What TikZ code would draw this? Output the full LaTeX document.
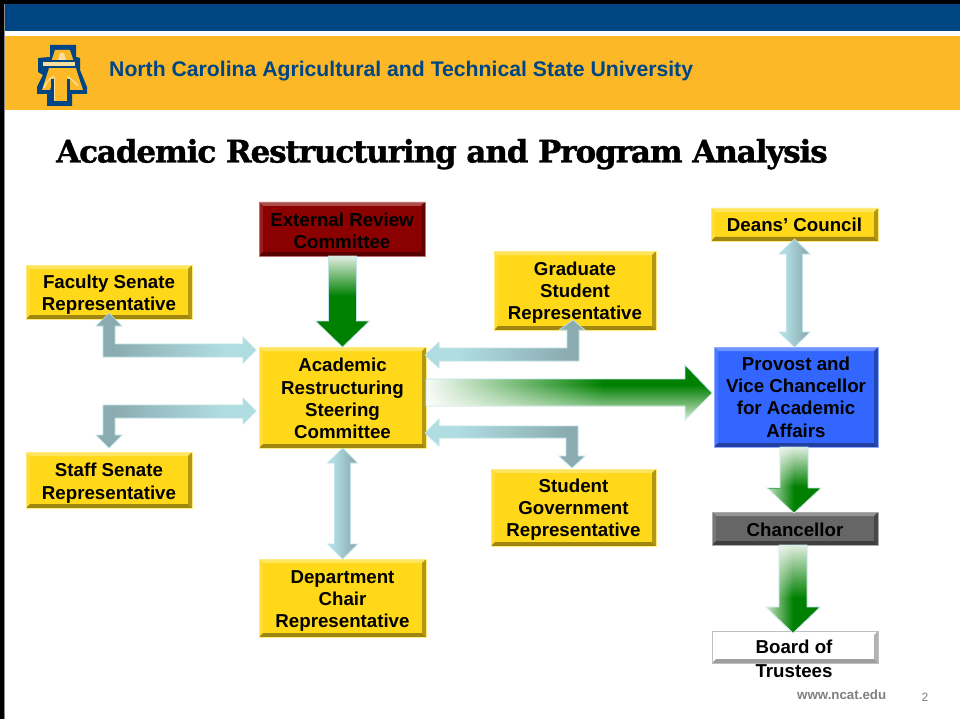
\documentclass[tikz,border=0pt]{standalone}
\usepackage{fontspec}
\setmainfont{Liberation Sans}
\newfontfamily\titlefont{DejaVu Serif}[LetterSpace=-3.6,BoldFeatures={FakeBold=1.2,LetterSpace=-3.6}]
\usetikzlibrary{calc,fadings}
\definecolor{navy}{HTML}{004684}
\definecolor{goldband}{HTML}{FDB827}
\definecolor{logopale}{HTML}{F8DFA0}
\definecolor{ag}{HTML}{008000}
\definecolor{lg}{HTML}{E2EEE2}
\definecolor{wg}{HTML}{F8FBF8}
\definecolor{tealL}{HTML}{B0DDE2}
\definecolor{tealD}{HTML}{8AABB0}
\definecolor{edgeT}{HTML}{BFE3E6}
\definecolor{boxgold}{HTML}{FFD819}
\definecolor{boxred}{HTML}{8B0000}
\definecolor{boxblue}{HTML}{3366FF}
\definecolor{boxgray}{HTML}{666666}
\definecolor{boxwhite}{HTML}{FFFFFF}
\pgfdeclareverticalshading{gdownA}{100bp}{color(0bp)=(ag); color(25bp)=(ag); color(53bp)=(ag); color(75bp)=(lg); color(100bp)=(lg)}
\pgfdeclareverticalshading{gdownB}{100bp}{color(0bp)=(ag); color(25bp)=(ag); color(45bp)=(ag); color(75bp)=(lg); color(100bp)=(lg)}
\pgfdeclarehorizontalshading{gright}{100bp}{color(0bp)=(wg); color(25bp)=(wg); color(56bp)=(ag); color(75bp)=(ag); color(100bp)=(ag)}
\pgfdeclarehorizontalshading{tealLR}{100bp}{color(0bp)=(tealL); color(25bp)=(tealL); color(35bp)=(tealL); color(70bp)=(tealD); color(75bp)=(tealD); color(100bp)=(tealD)}
\pgfdeclarehorizontalshading{tealRL}{100bp}{color(0bp)=(tealD); color(25bp)=(tealD); color(30bp)=(tealD); color(65bp)=(tealL); color(75bp)=(tealL); color(100bp)=(tealL)}
\tikzfading[name=lowfade, top color=transparent!100, bottom color=transparent!15]
\tikzfading[name=leftfade, left color=transparent!20, right color=transparent!100]
\newcommand{\dropby}[1]{\rule{0pt}{#1pt}}
\tikzset{
  x=1pt, y=-1pt,
  boxtext/.style={font=\fontsize{18.7}{22.3}\selectfont\bfseries, align=center, text=black, inner sep=0pt, outer sep=0pt},
  bevelbox/.style n args={3}{boxtext, rectangle, minimum width=#2, minimum height=#3, fill=#1,
    draw=#1!55!white, line width=0.7pt,
    path picture={
      \coordinate (nw) at (path picture bounding box.north west);
      \coordinate (ne) at (path picture bounding box.north east);
      \coordinate (sw) at (path picture bounding box.south west);
      \coordinate (se) at (path picture bounding box.south east);
      \fill[#1!70!white] (nw) -- (ne) -- ($(ne)+(-4,4)$) -- ($(nw)+(4,4)$) -- cycle;
      \fill[#1!88!white] (nw) -- (sw) -- ($(sw)+(4,-4)$) -- ($(nw)+(4,4)$) -- cycle;
      \fill[#1!70!black] (ne) -- (se) -- ($(se)+(-4,-4)$) -- ($(ne)+(-4,4)$) -- cycle;
      \fill[#1!62!black] (sw) -- (se) -- ($(se)+(-4,-4)$) -- ($(sw)+(4,-4)$) -- cycle;
    }},
  goldbox/.style 2 args={bevelbox={boxgold}{#1}{#2}},
  arrowedge/.style={draw=edgeT, line width=0.7pt},
  tealdouble/.style={arrowedge, shading=tealLR},
  tealfromright/.style={arrowedge, shading=tealLR},
  tealfromleft/.style={arrowedge, shading=tealRL},
  greendownA/.style={arrowedge, shading=gdownA},
  greendownB/.style={arrowedge, shading=gdownB},
  greenright/.style={arrowedge, shading=gright},
  footer/.style={text=black!50, inner sep=0pt},
}
% style, start, tip, half shaft, half head, head length
\newcommand{\DownArrow}[6]{%
  \path[#1] ($(#2 -| #3)+(-#4,0)$) -- ($(#2 -| #3)+(#4,0)$) -- ($(#3)+(#4,-#6)$) -- ($(#3)+(#5,-#6)$)
    -- (#3) -- ($(#3)+(-#5,-#6)$) -- ($(#3)+(-#4,-#6)$) -- cycle;}
% style, upper tip, lower tip, half shaft, half head, head length
\newcommand{\DoubleArrow}[6]{%
  \path[#1] (#2) -- ($(#2)+(#5,#6)$) -- ($(#2)+(#4,#6)$) -- ($(#3)+(#4,-#6)$) -- ($(#3)+(#5,-#6)$)
    -- (#3) -- ($(#3)+(-#5,-#6)$) -- ($(#3)+(-#4,-#6)$) -- ($(#2)+(-#4,#6)$) -- ($(#2)+(-#5,#6)$) -- cycle;}
\begin{document}
\begin{tikzpicture}
\useasboundingbox (0,0) rectangle (960,719);
\fill[white] (0,0) rectangle (960,719);
% header bands
\fill[navy] (0,4) rectangle (960,31);
\fill[goldband] (0,36) rectangle (960,110);
\fill[black] (0,0) rectangle (960,4);
\fill[black] (0,0) rectangle (4,719);
\fill[black!45] (4,4) rectangle (5,719);
% logo
\fill[navy] (50,45) -- (76,45) -- (76,57) -- (80,58) -- (80,70) -- (87,87) -- (87,94) -- (72,94)
  -- (72,106) -- (47,106) -- (47,94) -- (37,94) -- (37,87) -- (43,75) -- (38,72) -- (38,58) -- (50,57) -- cycle;
\fill[goldband] (55,50) -- (70,50) -- (83,90) -- (70,90) -- (66,78) -- (54,78) -- (50,90) -- (42,90) -- cycle;
\fill[navy] (41,60) rectangle (77,68.5);
\fill[logopale] (43,62) rectangle (75,66);
\fill[logopale] (60,53) -- (64,53) -- (66,60) -- (58,60) -- cycle;
\fill[goldband] (51,68.5) -- (73,68.5) -- (76,80) -- (48,80) -- cycle;
\draw[logopale, line width=1.4pt] (44,88) .. controls (50,73) and (64,69) .. (78,86);
\fill[navy] (50.5,79) rectangle (69.5,103);
\fill[goldband] (53.5,74) rectangle (66.5,101);
\fill[logopale] (53.5,77) rectangle (55,101);
% header text
\node[anchor=base west, inner sep=0pt, text=navy, font=\fontsize{21.2}{24}\selectfont\bfseries] (uni) at (109,77) {North Carolina Agricultural and Technical State University};
\node[anchor=base west, inner sep=0pt, text=black, font=\fontsize{31}{36}\selectfont\titlefont\bfseries] (title) at (56,162.5) {Academic Restructuring and Program Analysis};
% boxes
\node[bevelbox={boxred}{166}{54}] (ext) at (342,229) {\dropby{16.6}External Review\\Committee};
\node[goldbox={166}{54}] (fac) at (109,292) {\dropby{18.6}Faculty Senate\\Representative};
\node[goldbox={166}{56}] (staff) at (109,480) {\dropby{19.6}Staff Senate\\Representative};
\node[goldbox={167}{101}] (steer) at (342.5,397.5) {\dropby{15.6}Academic\\Restructuring\\Steering\\Committee};
\node[goldbox={162}{79}] (grad) at (575,290.5) {\dropby{17.6}Graduate\\Student\\Representative};
\node[goldbox={165}{77}] (stud) at (573.5,507.5) {\dropby{17.6}Student\\Government\\Representative};
\node[goldbox={167}{78}] (dept) at (342.5,598) {\dropby{18.6}Department\\Chair\\Representative};
\node[goldbox={167}{33}] (deans) at (794.5,224.5) {Deans’ Council};
\node[bevelbox={boxblue}{164}{100}] (prov) at (796,397) {Provost and\\Vice Chancellor\\for Academic\\Affairs};
\node[bevelbox={boxgray}{166}{33}] (chan) at (795,528.5) {\dropby{15.6}Chancellor};
\node[bevelbox={boxwhite}{166}{32}, draw=black!25] (board) at (795,647) {};
\node[boxtext, font=\fontsize{18.7}{23.5}\selectfont\bfseries] (boardtext) at (794,659) {Board of\\Trustees};
% straight green arrows
\DownArrow{greendownA}{ext.south}{steer.north}{14}{27}{26}
\coordinate (pc) at ($(chan.north)+(-1,1)$);
\DownArrow{greendownB}{prov.south}{pc}{14}{27}{25}
\fill[white, path fading=leftfade] (767,489) -- (780,489) -- (780,447.5) -- (794,447.5) -- (794,514) -- cycle;
\coordinate (bt) at ($(board.north)+(-2,2)$);
\DownArrow{greendownB}{chan.south}{bt}{14}{27}{26}
\fill[white, path fading=leftfade] (766,607) -- (779,607) -- (779,545.5) -- (793,545.5) -- (793,633) -- cycle;
% main green arrow
\coordinate (ms) at ($(steer.east)+(0,-4.5)$);
\coordinate (mt) at ($(prov.west)+(-2,-4)$);
\path[greenright] (ms |- 0,379) -- (685,379) -- (685,365) -- (mt) -- (685,420) -- (685,406) -- (ms |- 0,406) -- cycle;
\fill[white, path fading=lowfade] (426.5,385) -- (704,385) -- (712,393) -- (685,420) -- (685,406) -- (426.5,406) -- cycle;
% vertical double arrows
\DoubleArrow{tealdouble}{steer.south}{dept.north}{8}{15}{15}
\coordinate (dt) at ($(deans.south)+(0,-2)$);
\coordinate (db) at (prov.north -| deans.south);
\DoubleArrow{tealdouble}{dt}{db}{8}{15.5}{15}
% elbow arrows
\coordinate (g1) at ($(steer.north east)+(-1,8)$);
\coordinate (g2) at ($(grad.south)+(-2,-10)$);
\path[tealfromright] (g1) -- ($(g1)+(14,-13)$) -- ($(g1)+(14,-7)$) -- ($(g2)+(-6,28)$) -- ($(g2)+(-6,10)$) -- ($(g2)+(-14,10)$) -- (g2)
  -- ($(g2)+(12,10)$) -- ($(g2)+(6,10)$) -- ($(g2)+(6,41)$) -- ($(g1)+(14,6)$) -- ($(g1)+(14,13)$) -- cycle;
\coordinate (s1) at ($(steer.south east)+(-1,-15)$);
\coordinate (s2) at ($(stud.north)+(-1.5,-1)$);
\path[tealfromright] (s1) -- ($(s1)+(14,-14)$) -- ($(s1)+(14,-7)$) -- ($(s2)+(6,-42)$) -- ($(s2)+(6,-12)$) -- ($(s2)+(13,-12)$) -- (s2)
  -- ($(s2)+(-13,-12)$) -- ($(s2)+(-6,-12)$) -- ($(s2)+(-6,-30)$) -- ($(s1)+(14,5)$) -- ($(s1)+(14,13)$) -- cycle;
\coordinate (f1) at ($(fac.south)+(0,-6)$);
\coordinate (f2) at ($(steer.north west)+(-3,3)$);
\path[tealfromleft] (f1) -- ($(f1)+(13,13)$) -- ($(f1)+(6,13)$) -- ($(f2)+(-141,-6)$) -- ($(f2)+(-13,-6)$) -- ($(f2)+(-13,-13)$) -- (f2)
  -- ($(f2)+(-13,13)$) -- ($(f2)+(-13,7)$) -- ($(f1)+(-6,44)$) -- ($(f1)+(-6,13)$) -- ($(f1)+(-13,13)$) -- cycle;
\coordinate (t1) at ($(staff.north)+(0,-4)$);
\coordinate (t2) at ($(steer.south west)+(-3,-37)$);
\path[tealfromleft] (t1) -- ($(t1)+(13,-13)$) -- ($(t1)+(6,-13)$) -- ($(t1)+(6,-30)$) -- ($(t2)+(-13,7)$) -- ($(t2)+(-13,13)$) -- (t2)
  -- ($(t2)+(-13,-13)$) -- ($(t2)+(-13,-6)$) -- ($(t1)+(-6,-43)$) -- ($(t1)+(-6,-13)$) -- ($(t1)+(-13,-13)$) -- cycle;
% footer
\node[footer, anchor=base west, font=\fontsize{13.3}{15}\selectfont\bfseries] (web) at (797,699) {www.ncat.edu};
\node[footer, anchor=base, font=\fontsize{12}{14}\selectfont] (page) at (925,701) {2};
\end{tikzpicture}
\end{document}
